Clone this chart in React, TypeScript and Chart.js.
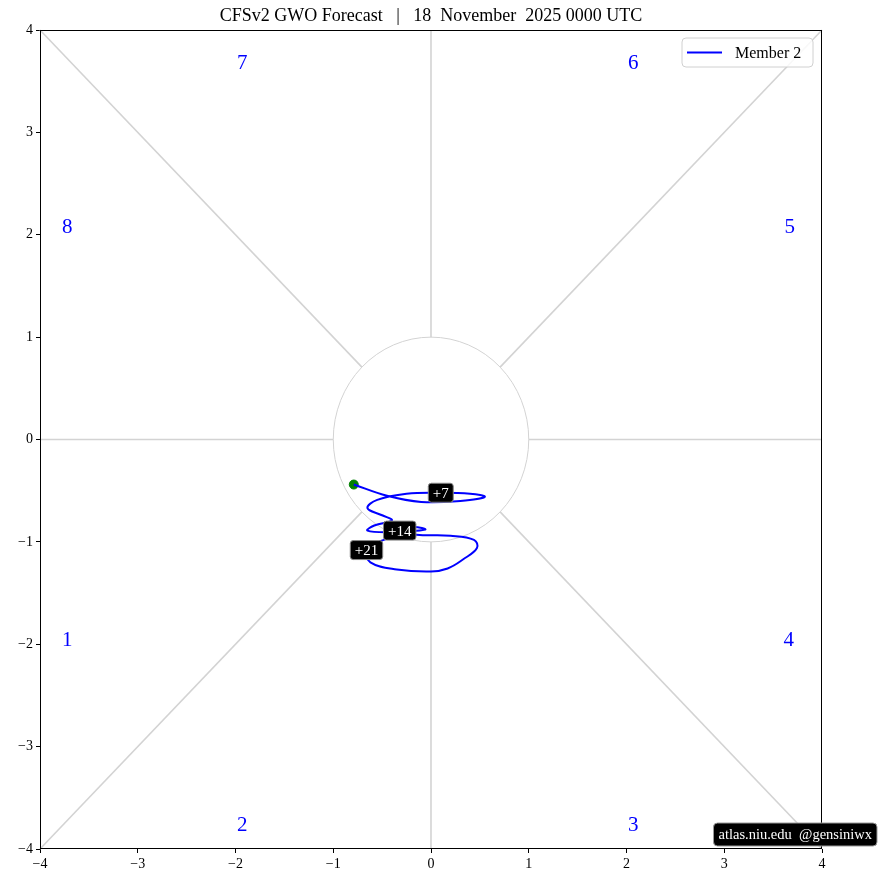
import React, { useEffect, useRef } from "react";
import { Chart, registerables } from "chart.js";
Chart.register(...registerables);

// Trajectory (GWO phase space)
const pathX = [-0.79, -0.45, -0.10, 0.30, 0.55, 0.40, 0.10, -0.25, -0.55, -0.65, -0.50, -0.40, -0.58, -0.65, -0.40, -0.06, -0.18, -0.32, -0.15, 0.20, 0.44, 0.47, 0.33, 0.17, 0.0, -0.35, -0.62, -0.66, -0.45, -0.20];
const pathY = [-0.44, -0.55, -0.61, -0.60, -0.56, -0.53, -0.52, -0.53, -0.59, -0.67, -0.74, -0.79, -0.84, -0.89, -0.905, -0.88, -0.855, -0.89, -0.93, -0.94, -0.98, -1.06, -1.17, -1.26, -1.29, -1.27, -1.20, -1.08, -0.97, -0.93];
const dayLabels = ["+7", "+14", "+21"];
const dayIndex = [6, 17, 27];

const phaseLabels = ["1", "2", "3", "4", "5", "6", "7", "8"];
const phaseX = [-3.72, -1.93, 2.07, 3.66, 3.67, 2.07, -1.93, -3.72];
const phaseY = [-1.96, -3.77, -3.77, -1.96, 2.07, 3.67, 3.67, 2.07];

const tickValues = [-4, -3, -2, -1, 0, 1, 2, 3, 4];
const titleText = "CFSv2 GWO Forecast   |   18  November  2025 0000 UTC";
const legendText = "Member 2";
const creditText = "atlas.niu.edu  @gensiniwx";

const FONT = "'Liberation Serif', 'DejaVu Serif', serif";

function fmt(v: number) {
  return v < 0 ? "\u2212" + Math.abs(v) : String(v);
}

function rr(ctx: CanvasRenderingContext2D, x: number, y: number, w: number, h: number, r: number) {
  ctx.beginPath();
  ctx.moveTo(x + r, y);
  ctx.lineTo(x + w - r, y);
  ctx.arcTo(x + w, y, x + w, y + r, r);
  ctx.lineTo(x + w, y + h - r);
  ctx.arcTo(x + w, y + h, x + w - r, y + h, r);
  ctx.lineTo(x + r, y + h);
  ctx.arcTo(x, y + h, x, y + h - r, r);
  ctx.lineTo(x, y + r);
  ctx.arcTo(x, y, x + r, y, r);
  ctx.closePath();
}

const decor = {
  id: "decor",
  beforeDatasetsDraw(chart: any) {
    const ctx = chart.ctx as CanvasRenderingContext2D;
    const xs = chart.scales.x, ys = chart.scales.y;
    const cx = xs.getPixelForValue(0), cy = ys.getPixelForValue(0);
    ctx.save();
    ctx.strokeStyle = "#d3d3d3";
    ctx.lineWidth = 1.6;
    for (let k = 0; k < 8; k++) {
      const a = (k * Math.PI) / 4;
      const c = Math.cos(a), s = Math.sin(a);
      const t = 4 / Math.max(Math.abs(c), Math.abs(s));
      ctx.beginPath();
      ctx.moveTo(xs.getPixelForValue(c), ys.getPixelForValue(s));
      ctx.lineTo(xs.getPixelForValue(c * t), ys.getPixelForValue(s * t));
      ctx.stroke();
    }
    ctx.lineWidth = 1;
    ctx.beginPath();
    ctx.ellipse(cx, cy, xs.getPixelForValue(1) - cx, cy - ys.getPixelForValue(1), 0, 0, Math.PI * 2);
    ctx.stroke();
    ctx.fillStyle = "#0000ff";
    ctx.font = `21px ${FONT}`;
    ctx.textAlign = "center";
    ctx.textBaseline = "middle";
    phaseLabels.forEach((p, i) => {
      ctx.fillText(p, xs.getPixelForValue(phaseX[i]), ys.getPixelForValue(phaseY[i]));
    });
    ctx.restore();
  },
  afterDatasetsDraw(chart: any) {
    const ctx = chart.ctx as CanvasRenderingContext2D;
    const xs = chart.scales.x, ys = chart.scales.y;
    const a = chart.chartArea;
    ctx.save();
    ctx.font = `15px ${FONT}`;
    ctx.textAlign = "center";
    ctx.textBaseline = "middle";
    dayLabels.forEach((lab, i) => {
      const px = xs.getPixelForValue(pathX[dayIndex[i]]);
      const py = ys.getPixelForValue(pathY[dayIndex[i]]);
      const w = ctx.measureText(lab).width + 9;
      const h = 19;
      rr(ctx, px - w / 2, py - h / 2, w, h, 3);
      ctx.fillStyle = "#000";
      ctx.fill();
      ctx.strokeStyle = "#888";
      ctx.lineWidth = 1;
      ctx.stroke();
      ctx.fillStyle = "#fff";
      ctx.fillText(lab, px, py + 1);
    });
    // frame
    const L = Math.round(a.left) + 0.5, T = Math.round(a.top) + 0.5;
    const R = Math.round(a.right) - 0.5, B = Math.round(a.bottom) - 0.5;
    ctx.strokeStyle = "#000";
    ctx.lineWidth = 1;
    ctx.strokeRect(L, T, R - L, B - T);
    // legend
    const lx = 682, ly = 38, lw = 131, lh = 29;
    rr(ctx, lx, ly, lw, lh, 4);
    ctx.fillStyle = "rgba(255,255,255,0.85)";
    ctx.fill();
    ctx.strokeStyle = "#d0d0d0";
    ctx.stroke();
    ctx.strokeStyle = "#0000ff";
    ctx.lineWidth = 2;
    ctx.beginPath();
    ctx.moveTo(687, ly + lh / 2);
    ctx.lineTo(722, ly + lh / 2);
    ctx.stroke();
    ctx.fillStyle = "#000";
    ctx.font = `16px ${FONT}`;
    ctx.textAlign = "left";
    ctx.fillText(legendText, 735, ly + lh / 2 + 1);
    // title
    ctx.textAlign = "center";
    ctx.font = `18px ${FONT}`;
    ctx.fillText(titleText, (a.left + a.right) / 2, 16);
    // credit
    ctx.font = `14.5px ${FONT}`;
    const cw = ctx.measureText(creditText).width + 10;
    rr(ctx, 877 - cw, 823, cw, 23, 4);
    ctx.fillStyle = "#000";
    ctx.fill();
    ctx.strokeStyle = "#999";
    ctx.lineWidth = 1;
    ctx.stroke();
    ctx.fillStyle = "#fff";
    ctx.fillText(creditText, 877 - cw / 2, 835);
    ctx.restore();
  },
};

export default function App() {
  const ref = useRef<HTMLCanvasElement>(null);
  useEffect(() => {
    if (!ref.current) return;
    const pts = pathX.map((x, i) => ({ x, y: pathY[i] }));
    const last = pts.length - 1;
    const axis = (isX: boolean) => ({
      type: "linear" as const,
      min: -4,
      max: 4,
      afterBuildTicks: (s: any) => {
        s.ticks = tickValues.map((v) => ({ value: v }));
      },
      afterFit: (s: any) => {
        if (isX) s.height = 34;
        else s.width = 40;
      },
      ticks: {
        color: "#000",
        font: { family: FONT, size: 14 },
        padding: 3,
        maxRotation: 0,
        callback: (v: any) => fmt(Number(v)),
      },
      grid: { drawOnChartArea: false, drawTicks: true, tickLength: 4, color: "#000" },
      border: { display: false },
    });
    const chart = new Chart(ref.current, {
      type: "scatter",
      data: {
        datasets: [
          {
            data: pts,
            showLine: true,
            borderColor: "#0000ff",
            borderWidth: 2,
            pointRadius: 0,
            tension: 0.4,
            fill: false,
          } as any,
          {
            data: [pts[0]],
            pointRadius: 4.5,
            backgroundColor: "#008000",
            borderColor: "#008000",
          },
          {
            data: [pts[last]],
            pointRadius: 4,
            backgroundColor: "#ff0000",
            borderColor: "#ff0000",
          },
        ],
      },
      options: {
        responsive: false,
        animation: false,
        devicePixelRatio: 1,
        layout: { padding: { top: 30, right: 59, left: 0, bottom: 0 } },
        plugins: { legend: { display: false }, tooltip: { enabled: false } },
        scales: { x: axis(true), y: axis(false) } as any,
      },
      plugins: [decor],
    });
    return () => chart.destroy();
  }, []);
  return (
    <div style={{ position: "fixed", left: 0, top: 0, width: 881, height: 883, background: "#fff" }}>
      <canvas ref={ref} width={881} height={883} />
    </div>
  );
}
